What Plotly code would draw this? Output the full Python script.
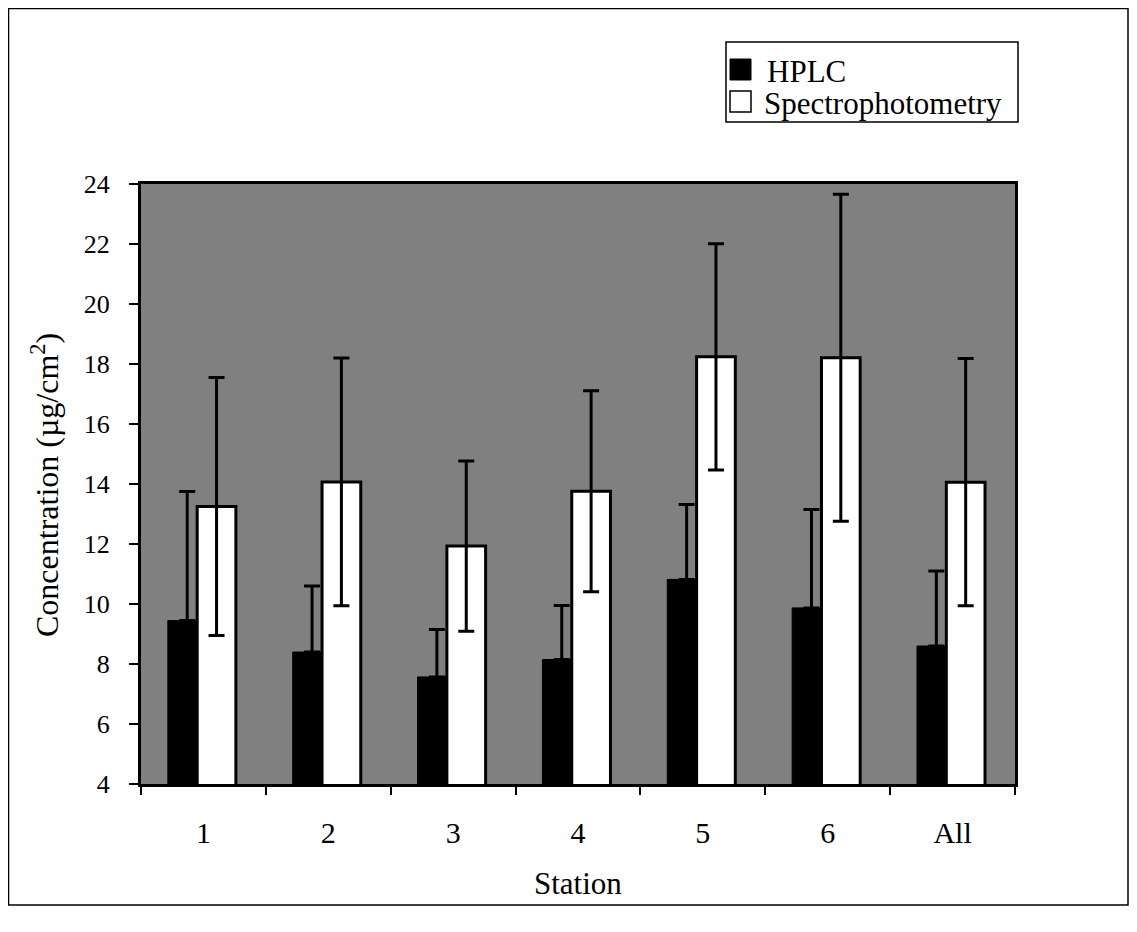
import plotly.graph_objects as go

stations = ["1", "2", "3", "4", "5", "6", "All"]
hplc = [9.45, 8.4, 7.57, 8.15, 10.82, 9.87, 8.6]
hplc_err = [4.3, 2.2, 1.58, 1.8, 2.5, 3.28, 2.5]
spectro = [13.25, 14.07, 11.93, 13.76, 18.24, 18.21, 14.06]
spectro_err = [4.3, 4.13, 2.84, 3.35, 3.77, 5.45, 4.12]
series_names = ["HPLC", "Spectrophotometry"]

# page has an 8px body margin; figure is sized to fit the window
OFF = 8
W, H = 1121, 916
L, R, T, B = 133, 114, 176, 140
PW, PH = W - L - R, H - T - B


def px(x):
    return (x - OFF - L) / PW


def py(y):
    return (H - B - (y - OFF)) / PH


FONT = "Liberation Serif, Times New Roman, serif"

fig = go.Figure()
fig.add_trace(go.Bar(
    x=stations, y=hplc, name=series_names[0], showlegend=False,
    marker=dict(color="black", line=dict(color="black", width=1)),
    offset=-0.285, width=0.31,
    error_y=dict(type="data", array=hplc_err, arrayminus=[0] * len(hplc_err),
                 symmetric=False, color="black", thickness=3, width=8),
))
fig.add_trace(go.Bar(
    x=stations, y=spectro, name=series_names[1], showlegend=False,
    marker=dict(color="white", line=dict(color="black", width=3)),
    offset=-0.05, width=0.31,
    error_y=dict(type="data", array=spectro_err, symmetric=True,
                 color="black", thickness=3, width=8),
))

leg_box = dict(type="rect", xref="paper", yref="paper",
               x0=px(726), x1=px(1018), y0=py(122), y1=py(42),
               line=dict(color="black", width=1.5), fillcolor="white")
sw1 = dict(type="rect", xref="paper", yref="paper",
           x0=px(730), x1=px(751), y0=py(80), y1=py(59),
           line=dict(color="black", width=1), fillcolor="black")
sw2 = dict(type="rect", xref="paper", yref="paper",
           x0=px(730), x1=px(751), y0=py(112), y1=py(91),
           line=dict(color="black", width=1.5), fillcolor="white")
frame = dict(type="rect", xref="paper", yref="paper",
             x0=px(8.5), x1=px(1128), y0=py(905), y1=py(8.5),
             line=dict(color="black", width=1.5), fillcolor="rgba(0,0,0,0)",
             layer="below")

fig.update_layout(
    width=W, height=H,
    margin=dict(l=L, r=R, t=T, b=B, autoexpand=False),
    barmode="overlay",
    paper_bgcolor="white",
    plot_bgcolor="#808080",
    font=dict(family=FONT, size=26, color="black"),
    showlegend=False,
    xaxis=dict(
        type="category", range=[-0.5, 6.5],
        showline=True, linecolor="black", linewidth=3, mirror=True,
        ticks="outside", ticklen=8, tickwidth=1.5, tickcolor="black",
        tickson="boundaries", showgrid=False, zeroline=False,
        ticklabelstandoff=20,
        tickfont=dict(family=FONT, size=30, color="black"),
    ),
    yaxis=dict(
        range=[4, 24], dtick=2, tick0=4,
        showline=True, linecolor="black", linewidth=3, mirror=True,
        ticks="outside", ticklen=9, tickwidth=1.5, tickcolor="black",
        showgrid=False, zeroline=False, ticklabelstandoff=14,
        tickfont=dict(family=FONT, size=26, color="black"),
    ),
    annotations=[
        dict(text="Station", x=px(578), y=py(883), xref="paper", yref="paper",
             showarrow=False, xanchor="center", yanchor="middle",
             font=dict(family=FONT, size=31, color="black")),
        dict(text="Concentration (µg/cm<sup>2</sup>)", x=px(45), y=py(485),
             xref="paper", yref="paper", textangle=-90,
             showarrow=False, xanchor="center", yanchor="middle",
             font=dict(family=FONT, size=32, color="black")),
        dict(text=series_names[0], x=px(765), y=py(71), xref="paper", yref="paper",
             showarrow=False, xanchor="left", yanchor="middle",
             font=dict(family=FONT, size=31, color="black")),
        dict(text=series_names[1], x=px(762), y=py(103), xref="paper", yref="paper",
             showarrow=False, xanchor="left", yanchor="middle",
             font=dict(family=FONT, size=31, color="black")),
    ],
    shapes=[frame, leg_box, sw1, sw2],
)

fig.write_html("out.html")
